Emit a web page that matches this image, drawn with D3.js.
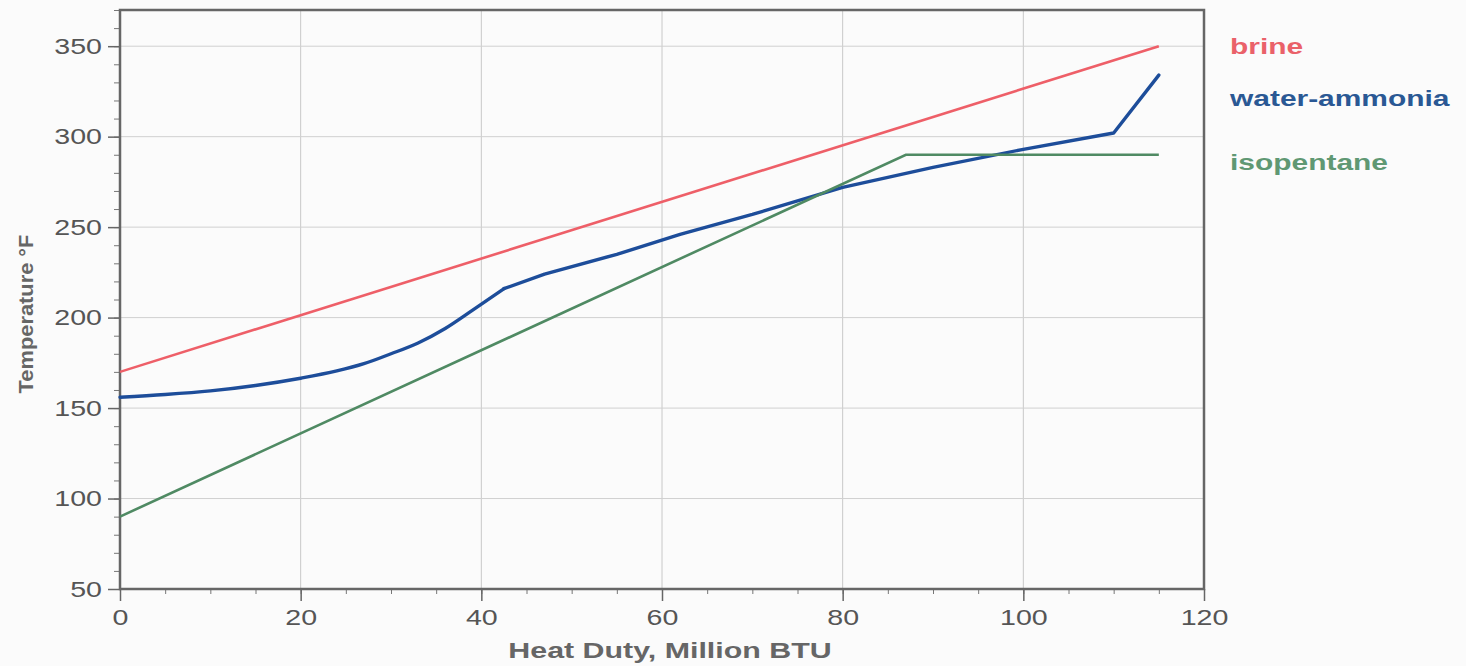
<!DOCTYPE html>
<html>
<head>
<meta charset="utf-8">
<script src="https://cdn.jsdelivr.net/npm/d3@7"></script>
<style>
  body { margin: 0; background: #fbfbfb; }
  text { font-family: "Liberation Sans", Arial, sans-serif; }
</style>
</head>
<body>
<div id="chart"></div>
<script>
// heat duty (Million BTU) vs temperature (F)
const brineX = [0, 115];
const brineY = [170, 350];

const ammoniaX = [0, 5, 10, 15, 20, 24, 27, 30, 33, 36, 39, 42.5, 47, 55, 62, 70, 80, 90, 100, 110, 115];
const ammoniaY = [156, 157.5, 159.5, 162.5, 166.5, 170.5, 174.5, 180, 186, 194, 204, 216, 224, 235, 246, 257, 272, 283, 293, 302, 334];

const isoX = [0, 87, 115];
const isoY = [90, 290, 290];

const xTicks = [0, 20, 40, 60, 80, 100, 120];
const yTicks = [50, 100, 150, 200, 250, 300, 350];

const seriesNames = ["brine", "water-ammonia", "isopentane"];
const seriesColors = ["#ee5f68", "#1d4d9a", "#4f8a63"];
const labelColors = ["#ea6169", "#2a5894", "#5f9873"];

const width = 1466, height = 666;
const margin = { top: 10, right: 262, bottom: 77, left: 120 };

const svg = d3.select("#chart").append("svg")
  .attr("width", width)
  .attr("height", height);

const x = d3.scaleLinear().domain([0, 120]).range([margin.left, width - margin.right]);
const y = d3.scaleLinear().domain([50, 370]).range([height - margin.bottom, margin.top]);

// widen text glyphs, the source art is horizontally stretched
function stretch(sel, f) {
  sel.each(function () {
    const w = this.getComputedTextLength();
    d3.select(this).attr("textLength", w * f).attr("lengthAdjust", "spacingAndGlyphs");
  });
}

// gridlines
svg.append("g")
  .selectAll("line")
  .data(xTicks.slice(1, -1))
  .join("line")
  .attr("x1", d => x(d)).attr("x2", d => x(d))
  .attr("y1", y(370)).attr("y2", y(50))
  .attr("stroke", "#c8c8c8").attr("stroke-width", 1);

svg.append("g")
  .selectAll("line")
  .data(yTicks.slice(1))
  .join("line")
  .attr("x1", x(0)).attr("x2", x(120))
  .attr("y1", d => y(d)).attr("y2", d => y(d))
  .attr("stroke", "#d0d0d0").attr("stroke-width", 1);

// minor ticks
svg.append("g")
  .attr("transform", `translate(0,${y(50)})`)
  .call(d3.axisBottom(x).tickValues(d3.range(0, 121, 5)).tickSize(5).tickFormat(""))
  .call(g => g.select(".domain").remove())
  .selectAll("line").attr("stroke", "#777");

svg.append("g")
  .attr("transform", `translate(${x(0)},0)`)
  .call(d3.axisLeft(y).tickValues(d3.range(50, 371, 10)).tickSize(6).tickFormat(""))
  .call(g => g.select(".domain").remove())
  .selectAll("line").attr("stroke", "#777");

// major axes
const gx = svg.append("g")
  .attr("transform", `translate(0,${y(50)})`)
  .call(d3.axisBottom(x).tickValues(xTicks).tickSize(12).tickPadding(8));
gx.select(".domain").remove();
gx.selectAll("line").attr("stroke", "#666").attr("stroke-width", 1.5);
gx.selectAll("text").attr("font-size", 22).attr("fill", "#555").call(stretch, 1.3);

const gy = svg.append("g")
  .attr("transform", `translate(${x(0)},0)`)
  .call(d3.axisLeft(y).tickValues(yTicks).tickSize(12).tickPadding(6));
gy.select(".domain").remove();
gy.selectAll("line").attr("stroke", "#666").attr("stroke-width", 1.5);
gy.selectAll("text").attr("font-size", 22).attr("fill", "#555").call(stretch, 1.3);

// frame
svg.append("rect")
  .attr("x", x(0)).attr("y", y(370))
  .attr("width", x(120) - x(0)).attr("height", y(50) - y(370))
  .attr("fill", "none").attr("stroke", "#666").attr("stroke-width", 2.5);

// lines
const line = d3.line().x(d => x(d[0])).y(d => y(d[1]));
const smoothLine = d3.line().x(d => x(d[0])).y(d => y(d[1])).curve(d3.curveMonotoneX);

const brinePts = d3.zip(brineX, brineY);
const ammoniaPts = d3.zip(ammoniaX, ammoniaY);
const isoPts = d3.zip(isoX, isoY);
const knee = ammoniaX.indexOf(42.5);

svg.append("path").datum(brinePts)
  .attr("fill", "none").attr("stroke", seriesColors[0]).attr("stroke-width", 2.6)
  .attr("d", line);

// water-ammonia: smooth bend up to the knee, straight segments after
svg.append("path").datum(ammoniaPts.slice(0, knee + 1))
  .attr("fill", "none").attr("stroke", seriesColors[1]).attr("stroke-width", 3.4)
  .attr("stroke-linecap", "round")
  .attr("d", smoothLine);
svg.append("path").datum(ammoniaPts.slice(knee))
  .attr("fill", "none").attr("stroke", seriesColors[1]).attr("stroke-width", 3.4)
  .attr("stroke-linejoin", "round").attr("stroke-linecap", "round")
  .attr("d", line);

svg.append("path").datum(isoPts)
  .attr("fill", "none").attr("stroke", seriesColors[2]).attr("stroke-width", 2.6)
  .attr("d", line);

// legend labels
const legendY = [46, 98, 162];
svg.append("g")
  .selectAll("text")
  .data(seriesNames)
  .join("text")
  .attr("x", 1230)
  .attr("y", (d, i) => legendY[i])
  .attr("dy", "0.35em")
  .attr("font-size", 22)
  .attr("font-weight", "bold")
  .attr("fill", (d, i) => labelColors[i])
  .text(d => d)
  .call(stretch, 1.36);

// axis titles
svg.append("text")
  .attr("x", (x(0) + x(120)) / 2 + 8)
  .attr("y", 658)
  .attr("text-anchor", "middle")
  .attr("font-size", 22)
  .attr("font-weight", "bold")
  .attr("fill", "#666")
  .text("Heat Duty, Million BTU")
  .call(stretch, 1.38);

svg.append("text")
  .attr("transform", `translate(33,${y(202)}) rotate(-90)`)
  .attr("text-anchor", "middle")
  .attr("font-size", 21)
  .attr("font-weight", "bold")
  .attr("fill", "#666")
  .text("Temperature °F")
  .call(stretch, 1.04);
</script>
</body>
</html>
